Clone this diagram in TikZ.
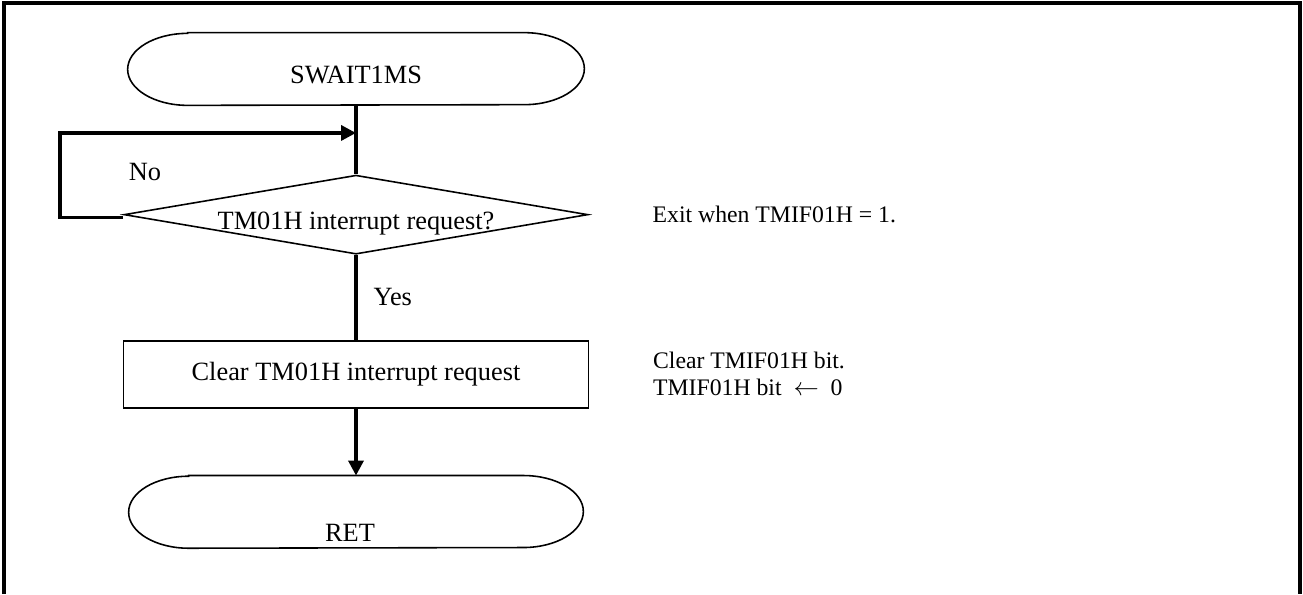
\documentclass[tikz,border=0pt]{standalone}
\usepackage{fontspec}
\setmainfont{Liberation Serif}
\usetikzlibrary{arrows.meta,calc,positioning,shapes.geometric}

% outline of a start/end box: straight sides, half-ellipse ends
\newcommand{\termline}[1]{%
  \draw[box] ([xshift=1.2cm]#1.north west) -- ([xshift=-1.2cm]#1.north east)
    arc[start angle=90,end angle=-90,x radius=1.2cm,y radius=0.72cm]
    -- ([xshift=1.2cm]#1.south west)
    arc[start angle=270,end angle=90,x radius=1.2cm,y radius=0.72cm] -- cycle;}

\tikzset{
  box/.style={line width=0.9pt},
  term/.style={minimum width=#1, minimum height=1.44cm, inner sep=0pt},
  decision/.style={diamond, draw, box, aspect=5.87, inner sep=0pt,
    minimum width=9.28cm, minimum height=1.58cm},
  process/.style={rectangle, draw, box, minimum width=9.3cm, minimum height=1.34cm},
  flow/.style={line width=2pt},
  arrow/.style={flow, -{Triangle[length=8.5pt,width=8.5pt]}},
  note/.style={inner sep=0pt, align=left, font=\fontsize{13.5}{15.5}\selectfont}
}

\begin{document}
\begin{tikzpicture}[font=\fontsize{15}{18}\selectfont]
\useasboundingbox (0,0) rectangle (26.06,-11.88);
\draw[line width=2pt] (0.08,-11.88) |- (26.0,-0.06) -- (26.0,-11.88);

\node[term=9.12cm, label={[yshift=-0.12cm]center:SWAIT1MS}] (start) at (7.12,-1.38) {};
\termline{start}
\node[decision, below=1.38cm of start,
  label={[yshift=-0.18cm]center:TM01H interrupt request?}] (dec) {};
\node[process, below=1.7cm of dec] (clr) {Clear TM01H interrupt request};
\node[term=9.08cm, below=1.34cm of clr,
  label={[shift={(-0.12,-0.42)}]center:RET}] (ret) {};
\termline{ret}

\node[note, right=1.27cm of dec] (exitnote) {Exit when TMIF01H = 1.};
\node[note, right=1.27cm of clr] (clrnote) {Clear TMIF01H bit.\\TMIF01H bit ~$\leftarrow$~ 0};

\coordinate (loopin) at ($(start.south)!0.4!(dec.north)$);
\draw[flow] (start.south) -- (dec.north);
\draw[arrow] ([yshift=-0.06cm]dec.west) -- ++(-1.26,0) |- (loopin);
\node (no) at (2.9,-3.44) {No};
\draw[flow] (dec.south) -- node[right=0.2cm] (yes) {Yes} (clr.north);
\draw[arrow] (clr.south) -- (ret.north);
\end{tikzpicture}
\end{document}
